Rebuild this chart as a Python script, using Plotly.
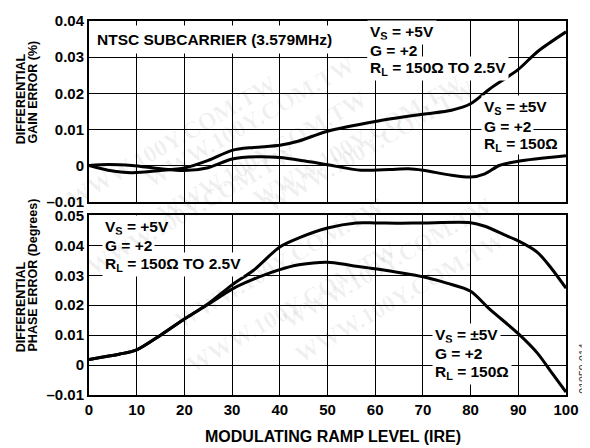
import plotly.graph_objects as go

# ---------------- data ----------------
x_ticks = [0, 10, 20, 30, 40, 50, 60, 70, 80, 90, 100]
gain_ticks = [0.04, 0.03, 0.02, 0.01, 0, -0.01]
gain_ticktext = ["0.04", "0.03", "0.02", "0.01", "0", "\u20130.01"]
phase_ticks = [0.05, 0.04, 0.03, 0.02, 0.01, 0, -0.01]
phase_ticktext = ["0.05", "0.04", "0.03", "0.02", "0.01", "0", "\u20130.01"]

# Differential gain error (%), VS=+5V, RL=150 ohm to 2.5V
gain_a_x = [0, 4, 9, 15, 20, 25, 30, 34.5, 40, 44, 50, 60, 70, 76, 80, 84, 90, 94, 100]
gain_a_y = [0, -0.0013, -0.002, -0.0014, -0.0007, 0.0014, 0.0042, 0.005, 0.0056, 0.0068,
            0.0095, 0.0122, 0.0142, 0.0153, 0.0171, 0.0212, 0.0266, 0.0315, 0.037]
# Differential gain error (%), VS=+-5V, RL=150 ohm
gain_b_x = [0, 4, 9, 15, 20, 25, 30, 35, 40, 45, 50, 57, 63, 67, 70, 76, 80, 83, 86, 90, 100]
gain_b_y = [0, 0.0003, 0.0, -0.0009, -0.0014, -0.0006, 0.0018, 0.0024, 0.0022, 0.0013,
            0.0002, -0.0013, -0.0011, -0.0009, -0.0013, -0.0027, -0.0032, -0.0023, 0.0,
            0.0012, 0.0027]

# Differential phase error (degrees), VS=+5V, RL=150 ohm to 2.5V
phase_a_x = [0, 6.5, 10, 15, 20, 25, 30, 34.5, 40, 44, 50, 56, 60, 65, 70, 80, 83, 87, 90,
             94, 97, 100]
phase_a_y = [0.0019, 0.0037, 0.0051, 0.010, 0.0154, 0.0205, 0.0268, 0.0317, 0.0395, 0.0425,
             0.0458, 0.0475, 0.0475, 0.0474, 0.0475, 0.0476, 0.0464, 0.0436, 0.0415, 0.0377,
             0.0322, 0.0257]
# Differential phase error (degrees), VS=+-5V, RL=150 ohm
phase_b_x = [0, 6.5, 10, 15, 20, 25, 30, 34.5, 40, 44, 50, 55, 60, 70, 75, 80, 84, 90, 94,
             97, 100]
phase_b_y = [0.0019, 0.0037, 0.0051, 0.010, 0.0154, 0.0203, 0.0254, 0.0287, 0.0319, 0.0335,
             0.0344, 0.0333, 0.0322, 0.0295, 0.0274, 0.0247, 0.0187, 0.0105, 0.004, -0.0025,
             -0.009]

FONT = "Liberation Sans, Arial, sans-serif"

# page geometry (body has an 8px margin in the browser)
OFF = 8
W, H = 582, 440
L, R, T, B = 81, 24, 4, 53


def px_to_paper(px, py):
    return ((px - OFF - L) / (W - L - R), 1 - (py - OFF - T) / (H - T - B))


fig = go.Figure()

line_style = dict(color="black", width=3, shape="spline", smoothing=0.8)
fig.add_trace(go.Scatter(x=gain_a_x, y=gain_a_y, mode="lines", line=line_style,
                         xaxis="x", yaxis="y", showlegend=False))
fig.add_trace(go.Scatter(x=gain_b_x, y=gain_b_y, mode="lines", line=line_style,
                         xaxis="x", yaxis="y", showlegend=False))
fig.add_trace(go.Scatter(x=phase_a_x, y=phase_a_y, mode="lines", line=line_style,
                         xaxis="x2", yaxis="y2", showlegend=False))
fig.add_trace(go.Scatter(x=phase_b_x, y=phase_b_y, mode="lines", line=line_style,
                         xaxis="x2", yaxis="y2", showlegend=False))

tickfont = dict(family=FONT, size=15, color="black", weight="bold")
axis_common = dict(showgrid=True, gridcolor="black", gridwidth=1, showline=True,
                   linecolor="black", linewidth=2, mirror=True, zeroline=False, ticks="",
                   tickfont=tickfont)

fig.update_layout(
    width=W, height=H,
    margin=dict(l=L, r=R, t=T, b=B),
    paper_bgcolor="white", plot_bgcolor="white",
    xaxis=dict(axis_common, range=[0, 100], tickvals=x_ticks, showticklabels=False,
               domain=[0, 1], anchor="y"),
    yaxis=dict(axis_common, range=[-0.01, 0.04], tickvals=gain_ticks,
               ticktext=gain_ticktext, domain=[0.517, 1], anchor="x"),
    xaxis2=dict(axis_common, range=[0, 100], tickvals=x_ticks, domain=[0, 1], anchor="y2"),
    yaxis2=dict(axis_common, range=[-0.01, 0.05], tickvals=phase_ticks,
                ticktext=phase_ticktext, domain=[0, 0.48], anchor="x2"),
)

afont = dict(family=FONT, size=15.5, color="black", weight="bold")
tfont = dict(family=FONT, size=12.5, color="black", weight="bold")

annos = []
# (text, text-left px, line-centre px, padding)
label_lines = [
    ("NTSC SUBCARRIER (3.579MHz)", 96.7, 30.7, 5),
    ("V<sub>S</sub> = +5V", 370, 23.5, 2),
    ("G = +2", 370, 42.5, 2),
    ("R<sub>L</sub> = 150\u03a9 TO 2.5V", 370, 61, 2),
    ("V<sub>S</sub> = \u00b15V", 484, 101, 2),
    ("G = +2", 484, 120.5, 2),
    ("R<sub>L</sub> = 150\u03a9", 484, 138.5, 0),
    ("V<sub>S</sub> = +5V", 105, 223, 2),
    ("G = +2", 105, 242, 2),
    ("R<sub>L</sub> = 150\u03a9 TO 2.5V", 105, 261, 2),
    ("V<sub>S</sub> = \u00b15V", 435, 334, 2),
    ("G = +2", 435, 353, 2),
    ("R<sub>L</sub> = 150\u03a9", 435, 372, 2),
]
for text, px, py, pad in label_lines:
    xp, yp = px_to_paper(px - pad - 1, py)
    annos.append(dict(text=text, x=xp, y=yp, xref="paper", yref="paper",
                      xanchor="left", yanchor="middle", bgcolor="white", borderpad=pad,
                      font=afont))

# axis titles and side note, positioned by window pixel
pix_texts = [
    ("DIFFERENTIAL", 21.7, 140, -90, "bottom", tfont),
    ("GAIN ERROR (%)", 33, 140, -90, "bottom", tfont),
    ("DIFFERENTIAL", 21.7, 353, -90, "bottom", tfont),
    ("PHASE ERROR (Degrees)", 33, 353, -90, "bottom", tfont),
    ("MODULATING RAMP LEVEL (IRE)", 333, 437, 0, "middle",
     dict(family=FONT, size=16, color="black", weight="bold")),
    ("01059-014", 583, 368, -90, "middle",
     dict(family=FONT, size=10.5, color="#333333")),
]
for text, px, py, ang, ya, f in pix_texts:
    xp, yp = px_to_paper(px, py)
    annos.append(dict(text=text, x=xp, y=yp, xref="paper", yref="paper",
                      xanchor="center", yanchor=ya, textangle=ang, font=f))

# faint watermark
wm_pos = [(60, 60), (250, 40), (470, 60), (150, 150), (370, 140), (80, 280),
          (280, 260), (500, 260), (180, 380), (400, 370)]
for (px, py) in wm_pos:
    xp, yp = px_to_paper(px, py)
    annos.append(dict(text="WWW.100Y.COM.TW", x=xp, y=yp, xref="paper", yref="paper",
                      textangle=-30,
                      font=dict(family="Liberation Serif, Times New Roman, serif", size=24,
                                color="rgba(0,0,0,0.06)", weight="bold")))

for a in annos:
    a.setdefault("showarrow", False)

fig.update_layout(annotations=annos)
fig.write_html("out.html")
